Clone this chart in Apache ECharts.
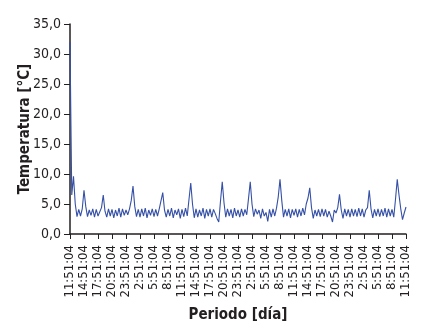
<!DOCTYPE html>
<html>
<head>
<meta charset="utf-8">
<script src="https://cdn.jsdelivr.net/npm/echarts@6/dist/echarts.min.js"></script>
<style>
  html, body { margin: 0; padding: 0; background: #fff; }
  #chart { width: 427px; height: 328px; }
</style>
</head>
<body>
<div id="chart"></div>
<script>
// tick labels every 3 hours
const tickLabels = [
  '11:51:04', '14:51:04', '17:51:04', '20:51:04', '23:51:04', '2:51:04', '5:51:04', '8:51:04',
  '11:51:04', '14:51:04', '17:51:04', '20:51:04', '23:51:04', '2:51:04', '5:51:04', '8:51:04',
  '11:51:04', '14:51:04', '17:51:04', '20:51:04', '23:51:04', '2:51:04', '5:51:04', '8:51:04',
  '11:51:04'
]
const pointsPerTick = 8

// temperature readings, one row per 3 h interval
const temperatures = [
  32.0, 6.5, 9.6, 5.0, 2.9, 4.1, 3.0, 4.2,
  7.3, 4.6, 2.9, 4.0, 3.1, 4.2, 2.8, 4.1,
  3.0, 3.2, 4.4, 6.5, 3.8, 2.8, 4.2, 3.0,
  4.1, 2.7, 4.0, 3.0, 4.3, 2.8, 4.2, 3.1,
  4.0, 3.2, 4.2, 5.6, 8.0, 4.6, 2.9, 4.1,
  2.8, 4.2, 3.0, 4.3, 2.7, 4.0, 3.1, 4.2,
  2.9, 4.1, 3.0, 4.2, 4.4, 6.9, 4.0, 2.8,
  4.1, 3.0, 4.3, 2.7, 4.0, 3.2, 4.2, 2.6,
  4.1, 2.9, 4.3, 3.0, 5.8, 8.5, 5.0, 2.7,
  4.2, 2.8, 4.0, 3.0, 4.3, 2.6, 4.1, 3.0,
  4.2, 2.8, 4.1, 3.4, 2.6, 2.0, 5.5, 8.7,
  5.2, 2.8, 4.2, 3.0, 4.1, 2.7, 4.3, 3.0,
  4.0, 2.8, 4.2, 3.0, 4.1, 3.2, 5.9, 8.7,
  5.0, 2.9, 4.2, 3.3, 4.0, 2.6, 4.2, 3.0,
  3.6, 2.1, 4.1, 2.8, 4.2, 3.0, 4.3, 6.2,
  9.1, 5.6, 2.8, 4.1, 3.0, 4.2, 2.7, 4.1,
  3.1, 4.2, 2.8, 4.1, 3.0, 4.3, 3.2, 5.0,
  6.0, 7.7, 4.4, 2.6, 4.0, 3.0, 4.1, 2.9,
  4.2, 3.0, 4.1, 2.8, 3.8, 3.0, 2.0, 4.0,
  3.5, 4.4, 6.6, 4.0, 2.6, 4.2, 3.0, 4.1,
  2.8, 4.2, 3.0, 4.1, 2.9, 4.3, 3.0, 4.2,
  2.8, 4.0, 4.4, 7.3, 4.2, 2.7, 4.1, 3.0,
  4.2, 2.9, 4.1, 3.0, 4.3, 2.8, 4.2, 3.0,
  4.1, 2.8, 5.8, 9.1, 6.5, 4.2, 2.4, 3.5,
  4.5
]

const font = "'Liberation Sans Narrow', 'DejaVu Sans Condensed', sans-serif"
const axisColor = '#231f20'

const chart = echarts.init(document.getElementById('chart'))
chart.setOption({
  animation: false,
  grid: {
    left: 70,
    right: 21,
    top: 24,
    bottom: 90
  },
  xAxis: {
    type: 'value',
    min: 0,
    max: tickLabels.length - 1,
    interval: 1,
    name: 'Periodo [día]',
    nameLocation: 'middle',
    nameGap: 74,
    nameMoveOverlap: false,
    nameTextStyle: {
      fontFamily: font,
      fontWeight: 'bold',
      fontSize: 15,
      color: axisColor
    },
    splitLine: { show: false },
    axisLine: { lineStyle: { color: axisColor, width: 1.5 } },
    axisTick: { show: true, length: 5, lineStyle: { color: axisColor } },
    axisLabel: {
      rotate: 90,
      margin: 11,
      fontFamily: font,
      fontSize: 13,
      color: axisColor,
      showMinLabel: true,
      showMaxLabel: true,
      formatter: function(v) {
        return tickLabels[Math.round(v)] || ''
      }
    }
  },
  yAxis: {
    type: 'value',
    min: 0,
    max: 35,
    interval: 5,
    name: 'Temperatura [°C]',
    nameLocation: 'middle',
    nameGap: 37,
    nameMoveOverlap: false,
    nameTextStyle: {
      fontFamily: font,
      fontWeight: 'bold',
      fontSize: 15,
      color: axisColor
    },
    splitLine: { show: false },
    axisLine: { show: true, lineStyle: { color: axisColor, width: 1.5 } },
    axisTick: { show: true, length: 6, lineStyle: { color: axisColor } },
    axisLabel: {
      margin: 9,
      fontFamily: font,
      fontSize: 14,
      color: axisColor,
      formatter: function(v) {
        return v.toFixed(1).replace('.', ',')
      }
    }
  },
  series: [
    {
      type: 'line',
      data: temperatures.map((t, i) => [i / pointsPerTick, t]),
      showSymbol: false,
      lineStyle: { color: '#3550a6', width: 1.1 }
    }
  ]
})
</script>
</body>
</html>
